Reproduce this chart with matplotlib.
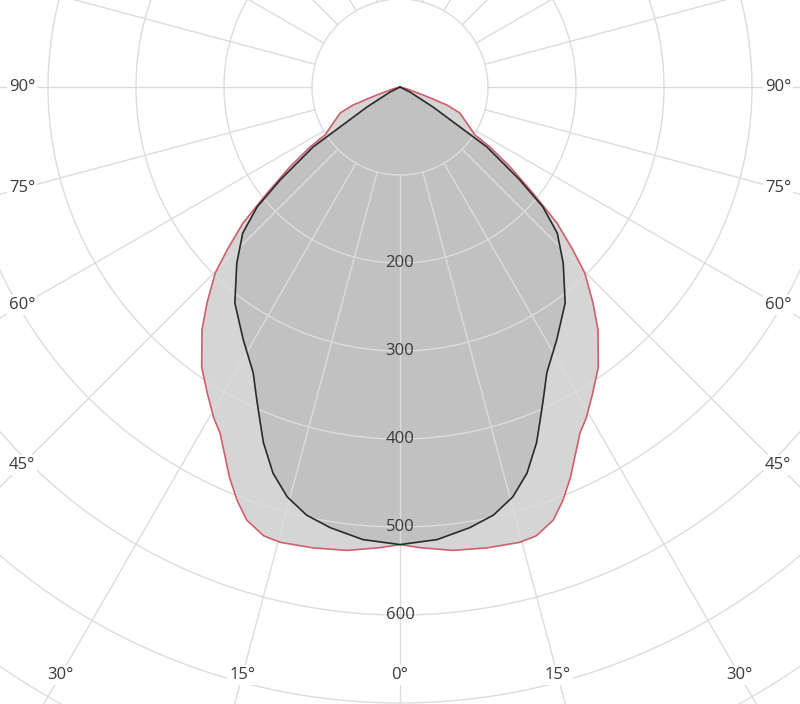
import numpy as np
import matplotlib
matplotlib.use("Agg")
import matplotlib.pyplot as plt

# ---- data (angle from nadir in degrees, intensity) ----
outer_angles = [0, 2.5, 6.5, 10.7, 14.7, 16.9, 19.5, 21.5, 23.6, 27.5, 29.3, 32.2,
                35.3, 39.2, 41.8, 44.8, 46.7, 49.1, 51.4, 54.0, 56.3, 57.4, 59.0,
                66.6, 69.0, 71.0, 75.0, 85.0]
outer_values = [520, 524, 530, 533, 535, 533, 522, 505, 484, 443, 432, 411,
                390, 356, 329, 298, 270, 236, 193, 155, 123, 101, 95,
                74, 57, 28, 8, 0]

inner_angles = [0, 4.7, 9.0, 12.3, 15.4, 18.2, 21.0, 22.2, 24.6, 27.2, 31.8,
                37.4, 42.8, 47.1, 50.0, 52.2, 55.4, 56.3, 58.8, 63.0, 70.0]
inner_values = [520, 516, 507, 498, 483, 462, 433, 418, 391, 365, 338,
                309, 273, 244, 212, 172, 120, 82, 44, 13, 0]

ring_values = [100, 200, 300, 400, 500, 600, 700, 800, 900]
ring_labels = ["200", "300", "400", "500", "600"]
spoke_angles = list(range(0, 360, 15))
angle_labels = [0, 15, 30, 45, 60, 75, 90]

# ---- helpers ----
def to_xy(angles, values, side):
    a = np.radians(np.asarray(angles, float))
    r = np.asarray(values, float)
    return side * r * np.sin(a), -r * np.cos(a)

def closed_curve(angles, values):
    xl, yl = to_xy(angles, values, -1)
    xr, yr = to_xy(angles, values, 1)
    x = np.concatenate([xl[::-1], xr[1:]])
    y = np.concatenate([yl[::-1], yr[1:]])
    return x, y

fig = plt.figure(figsize=(8, 7.04), dpi=100)
ax = fig.add_axes([0, 0, 1, 1])
scale = 0.88  # px per unit
ax.set_xlim(-400 / scale, 400 / scale)
ax.set_ylim(-(704 - 87) / scale, 87 / scale)
ax.axis("off")

# fills
xo, yo = closed_curve(outer_angles, outer_values)
xi, yi = closed_curve(inner_angles, inner_values)
ax.fill(xo, yo, color="#d5d5d5", zorder=1, lw=0)
ax.fill(xi, yi, color="#c1c1c1", zorder=2, lw=0)

# grid
grid_c = "#dcdcdc"
t = np.linspace(0, 2 * np.pi, 721)
for rv in ring_values:
    ax.plot(rv * np.cos(t), rv * np.sin(t), color=grid_c, lw=1.0, zorder=3)
for sa in spoke_angles:
    a = np.radians(sa)
    ax.plot([100 * np.sin(a), 1200 * np.sin(a)], [-100 * np.cos(a), -1200 * np.cos(a)],
            color=grid_c, lw=1.0, zorder=3)

# outlines
ax.plot(xo, yo, color="#cf5f6c", lw=1.2, zorder=4)
ax.plot(xi, yi, color="#2a2a2a", lw=1.2, zorder=5)

# radial labels
txt_c = "#3a3a3a"
font = dict(family=["Open Sans", "DejaVu Sans"], fontsize=12, color=txt_c)
for lab in ring_labels:
    ax.text(0, -float(lab), lab, ha="center", va="center", zorder=6, **font)

# angle labels on the frame
xe = 378 / scale
ye = (675 - 87) / scale
for al in angle_labels:
    a = np.radians(al)
    for side in ([1] if al == 0 else [-1, 1]):
        if al >= 45:
            x = side * xe
            y = -xe / np.tan(a) if al < 90 else 0.0
        else:
            y = -ye
            x = side * ye * np.tan(a)
        ax.text(x, y, f"{al}°", ha="center", va="center", zorder=6,
                bbox=dict(facecolor="white", edgecolor="none", pad=1.5), **font)

fig.savefig("out.png", dpi=100, facecolor="white")
